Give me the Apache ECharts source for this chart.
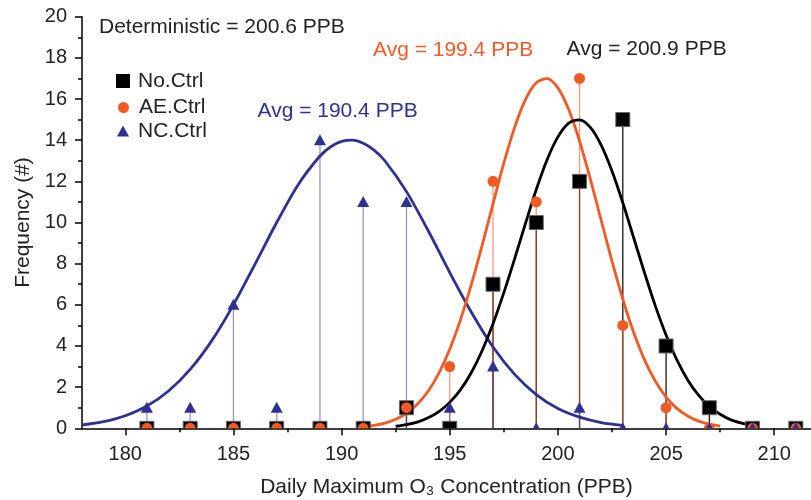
<!DOCTYPE html>
<html>
<head>
<meta charset="utf-8">
<script src="https://cdn.jsdelivr.net/npm/echarts@6/dist/echarts.min.js"></script>
<style>
html, body { margin: 0; padding: 0; background: #fff; }
#chart { width: 811px; height: 500px; }
</style>
</head>
<body>
<div id="chart"></div>
<script>
// histogram bins (PPB) and counts per scenario
const bins = [181, 183, 185, 187, 189, 191, 193, 195, 197, 199, 201, 203, 205, 207, 209, 211];
const noCtrl = [0, 0, 0, 0, 0, 0, 1, 0, 7, 10, 12, 15, 4, 1, 0, 0];
const aeCtrl = [0, 0, 0, 0, 0, 0, 1, 3, 12, 11, 17, 5, 1, 0, 0, 0];
const ncCtrl = [1, 1, 6, 1, 14, 11, 11, 1, 3, 0, 1, 0, 0, 0, 0, 0];

// fitted curves
const ncFitX = [178, 179, 180, 181, 182, 183, 184, 185, 186, 187, 188, 189, 189.5, 190, 190.5, 191, 191.5, 192, 193, 194, 195, 196, 197, 198, 199, 200, 201, 202, 203];
const ncFitY = [0.16, 0.32, 0.61, 1.08, 1.81, 2.86, 4.26, 6.0, 7.98, 10.0, 11.85, 13.23, 13.68, 13.94, 14.0, 13.85, 13.52, 13.0, 11.5, 9.61, 7.57, 5.64, 3.95, 2.62, 1.64, 0.96, 0.54, 0.28, 0.14];
const aeFitX = [191, 191.5, 192, 192.5, 193, 193.5, 194, 194.5, 195, 195.5, 196, 196.5, 197, 197.5, 198, 198.5, 199, 199.5, 200, 200.5, 201, 201.5, 202, 202.5, 203, 203.5, 204, 204.5, 205, 205.5, 206, 206.5, 207, 207.5];
const aeFitY = [0.075, 0.14, 0.25, 0.44, 0.73, 1.17, 1.80, 2.68, 3.84, 5.28, 6.99, 8.90, 10.91, 12.88, 14.62, 15.97, 16.79, 16.99, 16.54, 15.49, 13.96, 12.11, 10.11, 8.12, 6.27, 4.67, 3.34, 2.30, 1.52, 0.97, 0.60, 0.35, 0.20, 0.11];
const noFitX = [192.5, 193, 193.5, 194, 194.5, 195, 195.5, 196, 196.5, 197, 197.5, 198, 198.5, 199, 199.5, 200, 200.5, 201, 201.5, 202, 202.5, 203, 203.5, 204, 204.5, 205, 205.5, 206, 206.5, 207, 207.5, 208, 208.5, 209];
const noFitY = [0.10, 0.18, 0.30, 0.51, 0.81, 1.26, 1.88, 2.71, 3.78, 5.08, 6.59, 8.24, 9.95, 11.60, 13.05, 14.16, 14.83, 14.99, 14.62, 13.76, 12.50, 10.96, 9.27, 7.57, 5.96, 4.53, 3.32, 2.35, 1.61, 1.06, 0.68, 0.41, 0.25, 0.14];

const xTicks = [180, 185, 190, 195, 200, 205, 210];
const xMinorTicks = [182.5, 187.5, 192.5, 197.5, 202.5, 207.5];

const FONT = '"Liberation Sans", Arial, sans-serif';
const BLACK = '#000000';
const ORANGE = '#F15A24';
const BLUE = '#2E3192';

function pairs(xs, ys) {
    return xs.map((x, i) => [x, ys[i]]);
}

function stems(name, vals, color) {
    return {
        type: 'custom',
        name: name,
        silent: true,
        clip: true,
        z: 1,
        data: pairs(bins, vals),
        renderItem: function (params, api) {
            const a = api.coord([api.value(0), 0]);
            const b = api.coord([api.value(0), api.value(1)]);
            return {
                type: 'line',
                shape: { x1: a[0], y1: a[1], x2: b[0], y2: b[1] },
                style: { stroke: color, lineWidth: 1.2 }
            };
        }
    };
}

function marks(name, vals, color, kind) {
    return {
        type: 'custom',
        name: name,
        clip: true,
        z: 3,
        itemStyle: { color: color },
        data: pairs(bins, vals),
        renderItem: function (params, api) {
            const p = api.coord([api.value(0), api.value(1)]);
            if (kind === 'square') {
                return {
                    type: 'rect',
                    shape: { x: p[0] - 7, y: p[1] - 7, width: 14, height: 14 },
                    style: { fill: color, stroke: '#666', lineWidth: 1 }
                };
            }
            if (kind === 'circle') {
                return {
                    type: 'circle',
                    shape: { cx: p[0], cy: p[1], r: 5.5 },
                    style: { fill: color }
                };
            }
            return {
                type: 'polygon',
                shape: { points: [[p[0], p[1] - 6], [p[0] - 6, p[1] + 5], [p[0] + 6, p[1] + 5]] },
                style: { fill: color }
            };
        }
    };
}

function fit(name, xs, ys, color) {
    return {
        type: 'line',
        name: name,
        data: pairs(xs, ys),
        smooth: 0.3,
        showSymbol: false,
        silent: true,
        clip: true,
        z: 2,
        lineStyle: { color: color, width: 2.8 }
    };
}

function legendItem(name, icon, left, top, w, h, pad) {
    return {
        data: [{ name: name, icon: icon }],
        left: left,
        top: top,
        padding: 0,
        itemWidth: w,
        itemHeight: h,
        selectedMode: false,
        textStyle: { fontSize: 21, fontFamily: FONT, color: '#222', lineHeight: 22, padding: [0, 0, 0, pad] }
    };
}

function label(text, x, y, color) {
    return {
        type: 'text',
        x: x,
        y: y,
        style: { text: text, fontSize: 21, fontFamily: FONT, fill: color, verticalAlign: 'middle' }
    };
}

const chart = echarts.init(document.getElementById('chart'));

chart.setOption({
    animation: false,
    backgroundColor: '#fff',
    textStyle: { fontFamily: FONT },
    grid: { left: 82, right: 0, top: 16.7, bottom: 71.7, outerBoundsMode: 'none' },
    legend: [
        legendItem('No.Ctrl', 'rect', 116, 70, 14, 14, 3),
        legendItem('AE.Ctrl', 'circle', 118, 96.5, 11, 11, 5),
        legendItem('NC.Ctrl', 'triangle', 117, 120, 12, 11, 4)
    ],
    xAxis: [
        {
            type: 'value',
            min: 178,
            max: 211.7,
            position: 'bottom',
            axisLine: { lineStyle: { color: BLACK, width: 1.5 } },
            axisTick: { customValues: xTicks, length: 7, lineStyle: { color: BLACK, width: 1.5 } },
            axisLabel: { customValues: xTicks, fontSize: 20, color: '#222', margin: 16 },
            splitLine: { show: false },
            name: 'Daily Maximum O\u2083 Concentration (PPB)',
            nameLocation: 'middle',
            nameGap: 48,
            nameTextStyle: { fontSize: 21, color: '#222' }
        },
        {
            type: 'value',
            min: 178,
            max: 211.7,
            position: 'bottom',
            axisLine: { show: false },
            axisTick: { customValues: xMinorTicks, length: 4, lineStyle: { color: BLACK, width: 1.5 } },
            axisLabel: { show: false },
            splitLine: { show: false }
        }
    ],
    yAxis: {
        type: 'value',
        min: 0,
        max: 20,
        interval: 2,
        axisLine: { show: true, lineStyle: { color: BLACK, width: 1.5 } },
        axisTick: { show: true, length: 7, lineStyle: { color: BLACK, width: 1.5 } },
        minorTick: { show: true, splitNumber: 2, length: 4, lineStyle: { color: BLACK, width: 1.5 } },
        axisLabel: { fontSize: 20, color: '#222', margin: 15 },
        splitLine: { show: false },
        name: 'Frequency (#)',
        nameLocation: 'middle',
        nameGap: 48,
        nameRotate: 90,
        nameTextStyle: { fontSize: 21, color: '#222' }
    },
    graphic: [
        label('Deterministic = 200.6 PPB', 99, 27.5, '#222'),
        label('Avg = 199.4 PPB', 373, 50, ORANGE),
        label('Avg = 200.9 PPB', 566.5, 49, '#222'),
        label('Avg = 190.4 PPB', 257.5, 111.5, BLUE)
    ],
    series: [
        stems('No.Ctrl stems', noCtrl, BLACK),
        stems('AE.Ctrl stems', aeCtrl, 'rgba(241,90,36,0.65)'),
        stems('NC.Ctrl stems', ncCtrl, 'rgba(46,49,146,0.55)'),
        fit('NC.Ctrl fit', ncFitX, ncFitY, BLUE),
        fit('AE.Ctrl fit', aeFitX, aeFitY, ORANGE),
        fit('No.Ctrl fit', noFitX, noFitY, BLACK),
        marks('No.Ctrl', noCtrl, BLACK, 'square'),
        marks('AE.Ctrl', aeCtrl, ORANGE, 'circle'),
        marks('NC.Ctrl', ncCtrl, BLUE, 'triangle')
    ]
});
</script>
</body>
</html>
